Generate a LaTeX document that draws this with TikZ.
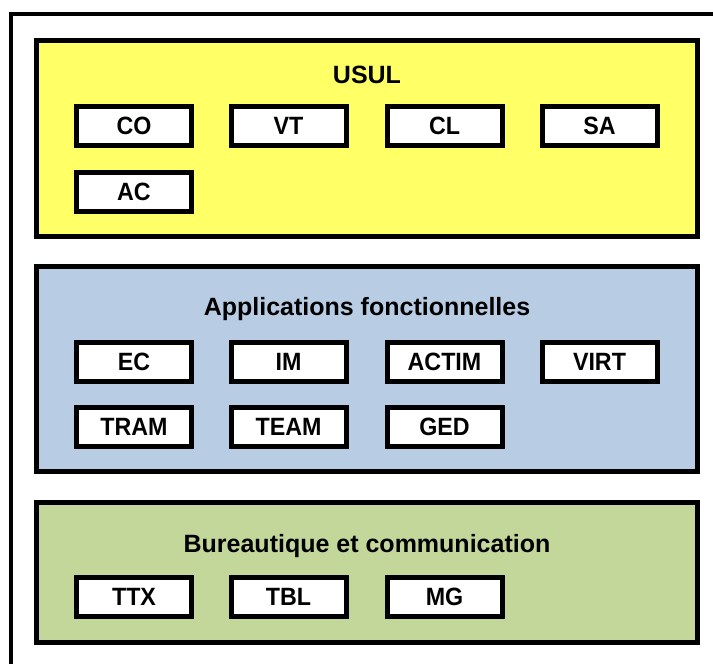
\documentclass[tikz,border=0pt]{standalone}
\usepackage{fontspec}
\setmainfont{Liberation Sans}
\newfontfamily\boxfont[FakeStretch=0.93]{Liberation Sans}
\definecolor{usulyellow}{RGB}{255,255,102}
\definecolor{appblue}{RGB}{184,204,228}
\definecolor{bureaugreen}{RGB}{196,215,155}
\tikzset{
    module/.style={draw=black, line width=5pt, fill=white, minimum width=115pt, minimum height=39pt, inner sep=0pt, font=\boxfont\bfseries\fontsize{25}{25}\selectfont},
    group/.style={draw=black, line width=5pt},
    grouptitle/.style={inner sep=0pt, font=\bfseries\fontsize{25}{25}\selectfont}
}
\begin{document}
\begin{tikzpicture}[x=1pt,y=-1pt]
    \useasboundingbox (0,0) rectangle (713,664);
    \draw [black, line width=4pt] (11,664) -- (11,14) -- (713,14);
    % groups
    \draw [group, fill=usulyellow] (36.5,40.5) rectangle (697.5,236.5);
    \draw [group, fill=appblue] (36.5,266.5) rectangle (697.5,471.5);
    \draw [group, fill=bureaugreen] (36.5,502.5) rectangle (697.5,642.5);
    \node [grouptitle] (usul) at (367,75) {USUL};
    \node [grouptitle] (appli) at (367,309) {Applications fonctionnelles};
    \node [grouptitle] (bureau) at (367,546) {Bureautique et communication};
    % USUL
    \node [module] (co) at (134,126) {CO};
    \node [module] (vt) at (288.5,126) {VT};
    \node [module] (cl) at (444.5,126) {CL};
    \node [module] (sa) at (599.5,126) {SA};
    \node [module] (ac) at (134,192) {AC};
    % applications
    \node [module] (ec) at (134,362) {EC};
    \node [module] (im) at (288.5,362) {IM};
    \node [module] (actim) at (444.5,362) {ACTIM};
    \node [module] (virt) at (599.5,362) {VIRT};
    \node [module] (tram) at (134,427) {TRAM};
    \node [module] (team) at (288.5,427) {TEAM};
    \node [module] (ged) at (444.5,427) {GED};
    % bureautique
    \node [module] (ttx) at (134,597) {TTX};
    \node [module] (tbl) at (288.5,597) {TBL};
    \node [module] (mg) at (444.5,597) {MG};
\end{tikzpicture}
\end{document}
